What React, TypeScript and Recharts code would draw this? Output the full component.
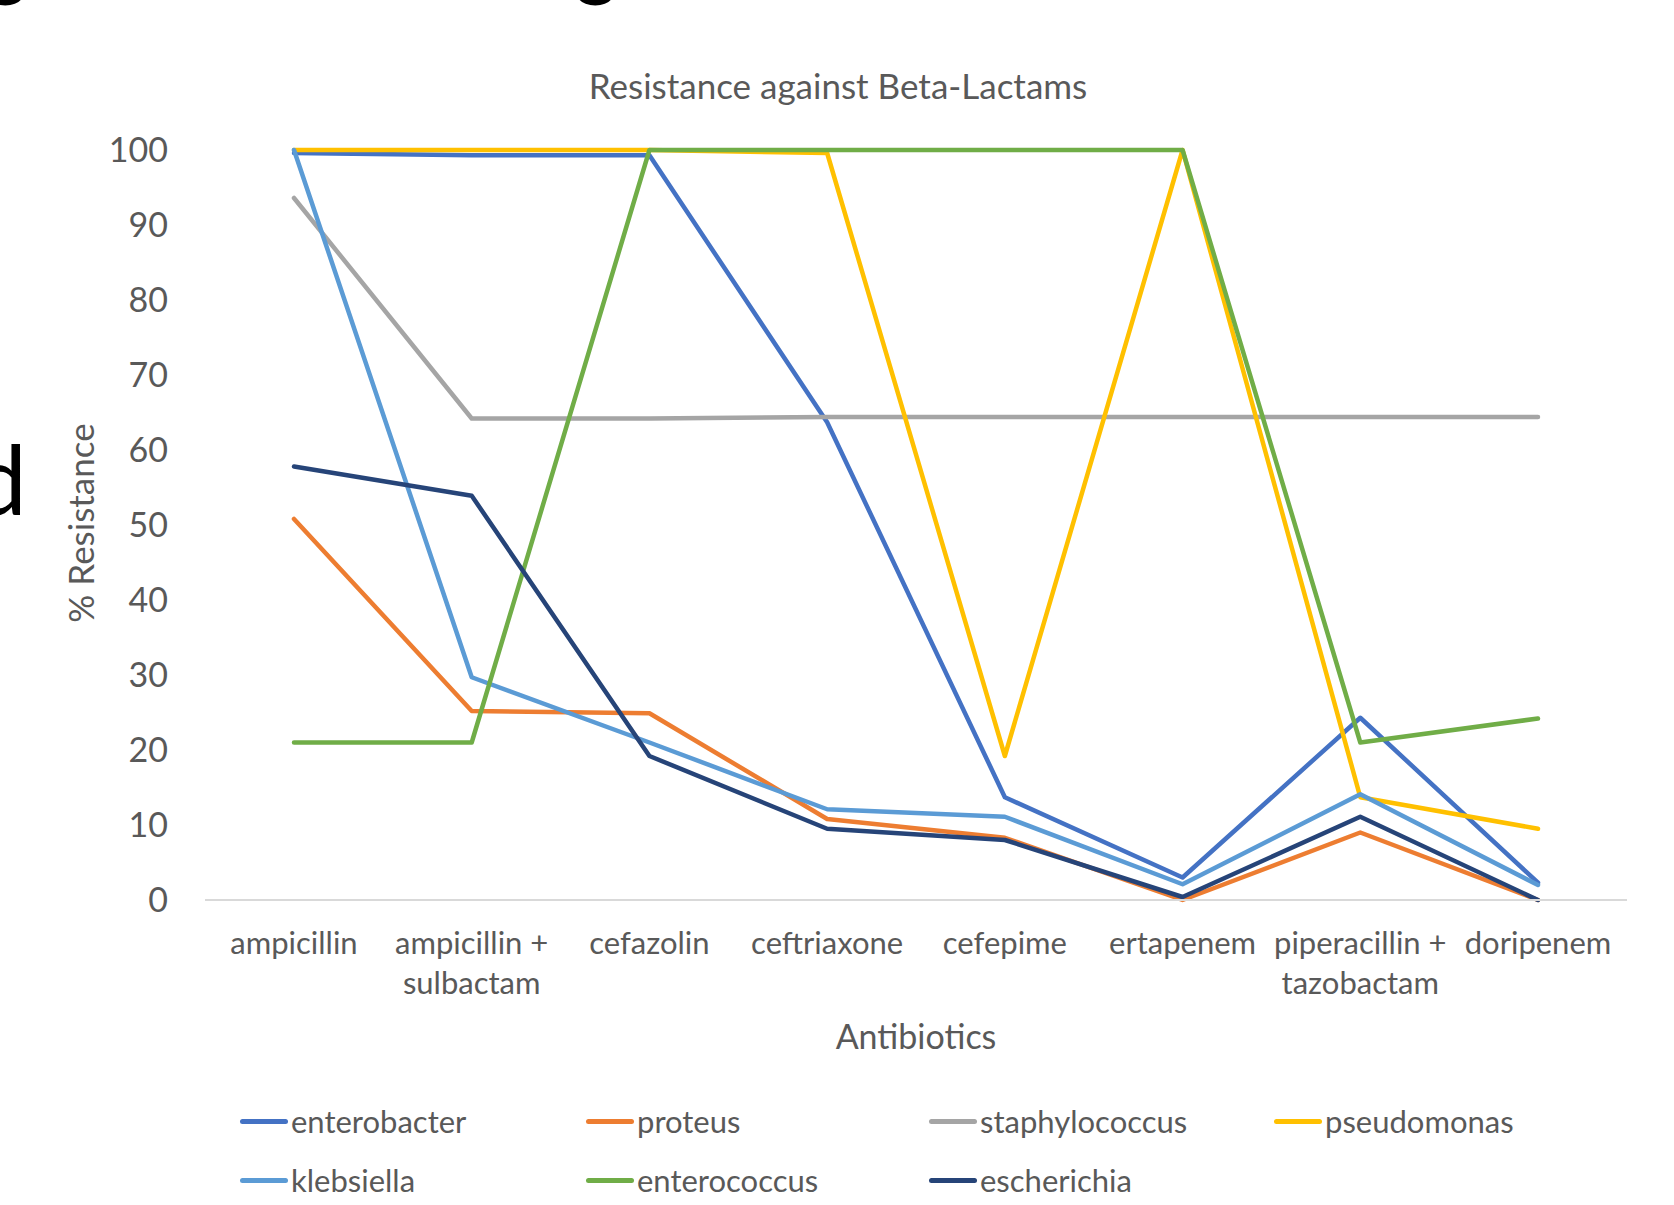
import React from "react";
import { Line, LineChart, XAxis, YAxis } from "recharts";

const categories = [
  "ampicillin",
  "ampicillin + sulbactam",
  "cefazolin",
  "ceftriaxone",
  "cefepime",
  "ertapenem",
  "piperacillin + tazobactam",
  "doripenem"
];

const enterobacter = [99.6, 99.3, 99.3, 63.7, 13.7, 3, 24.3, 2.3];
const proteus = [50.8, 25.2, 24.9, 10.8, 8.3, 0, 9, 0];
const staphylococcus = [93.6, 64.2, 64.2, 64.4, 64.4, 64.4, 64.4, 64.4];
const pseudomonas = [100, 100, 100, 99.6, 19.2, 100, 13.7, 9.5];
const klebsiella = [100, 29.7, 21, 12.1, 11.1, 2.1, 14.1, 2];
const enterococcus = [21, 21, 100, 100, 100, 100, 21, 24.2];
const escherichia = [57.8, 53.9, 19.2, 9.5, 8, 0.4, 11.1, 0];

const yTicks = [0, 10, 20, 30, 40, 50, 60, 70, 80, 90, 100];

const series = [
  { key: "enterobacter", values: enterobacter, color: "#4472C4" },
  { key: "proteus", values: proteus, color: "#ED7D31" },
  { key: "staphylococcus", values: staphylococcus, color: "#A5A5A5" },
  { key: "pseudomonas", values: pseudomonas, color: "#FFC000" },
  { key: "klebsiella", values: klebsiella, color: "#5B9BD5" },
  { key: "enterococcus", values: enterococcus, color: "#70AD47" },
  { key: "escherichia", values: escherichia, color: "#264478" }
];

const data = categories.map((name, i) => {
  const row: Record<string, string | number> = { name };
  series.forEach((s) => {
    row[s.key] = s.values[i];
  });
  return row;
});

const TEXT = "#595959";
const FONT = "Lato, 'Open Sans', sans-serif";

// splits "a + b" into two lines like Excel wraps them
function CategoryTick(props: any) {
  const { x, y, payload } = props;
  const value: string = payload.value;
  const parts = value.split(" + ");
  const lines = parts.length > 1 ? [parts[0] + " +", parts[1]] : [value];
  return (
    <g transform={`translate(${x},${y})`}>
      {lines.map((line, i) => (
        <text
          key={i}
          x={0}
          y={42 + i * 40}
          textAnchor="middle"
          dominantBaseline="central"
          fill={TEXT}
          fontSize={31}
          fontFamily={FONT}
        >
          {line}
        </text>
      ))}
    </g>
  );
}

// legend rows as in the picture: 4 items then 3
const legendCols = [240, 586, 929, 1274];
const legendRows = [1121, 1180];

// cut-off slide text peeking in at the edges of the screenshot
const edgeGlyph = (left: number, top: number, ch: string) => (
  <div
    style={{
      position: "absolute",
      left,
      top,
      fontSize: 96,
      lineHeight: 1,
      color: "#000"
    }}
  >
    {ch}
  </div>
);

export default function App() {
  return (
    <div
      style={{
        position: "absolute",
        left: 0,
        top: 0,
        width: 1674,
        height: 1205,
        overflow: "hidden",
        background: "#fff",
        fontFamily: FONT
      }}
    >
      {edgeGlyph(-27, 430, "d")}
      {edgeGlyph(-22, -80, "o")}
      {edgeGlyph(568, -80, "o")}
      <div
        style={{
          position: "absolute",
          left: 0,
          width: 1676,
          top: 65,
          lineHeight: "40px",
          textAlign: "center",
          fontSize: 35,
          color: TEXT
        }}
      >
        Resistance against Beta-Lactams
      </div>
      <div
        style={{
          position: "absolute",
          left: 80 - 150,
          width: 300,
          top: 523 - 20,
          lineHeight: "40px",
          textAlign: "center",
          fontSize: 35,
          color: TEXT,
          transform: "rotate(-90deg)"
        }}
      >
        % Resistance
      </div>
      <div
        style={{
          position: "absolute",
          left: 916 - 150,
          width: 300,
          top: 1036 - 20,
          lineHeight: "40px",
          textAlign: "center",
          fontSize: 34,
          color: TEXT
        }}
      >
        Antibiotics
      </div>

      <LineChart
        width={1674}
        height={1205}
        data={data}
        margin={{ top: 150, right: 47, bottom: 245, left: 145 }}
      >
        <XAxis
          dataKey="name"
          height={60}
          tickSize={0}
          tickMargin={0}
          interval={0}
          padding={{ left: 89, right: 89 }}
          tick={<CategoryTick />}
          axisLine={{ stroke: "#D9D9D9", strokeWidth: 2 }}
          tickLine={false}
        />
        <YAxis
          width={60}
          domain={[0, 100]}
          ticks={yTicks}
          tickSize={0}
          tickMargin={37}
          axisLine={false}
          tickLine={false}
          tick={{ fill: TEXT, fontSize: 34, fontFamily: FONT }}
        />
        {series.map((s) => (
          <Line
            key={s.key}
            type="linear"
            dataKey={s.key}
            stroke={s.color}
            strokeWidth={4.5}
            strokeLinejoin="round"
            strokeLinecap="round"
            dot={false}
            activeDot={false}
            isAnimationActive={false}
          />
        ))}
      </LineChart>

      {series.map((s, i) => {
        const col = i < 4 ? i : i - 4;
        const row = i < 4 ? 0 : 1;
        return (
          <div
            key={s.key}
            style={{
              position: "absolute",
              left: legendCols[col],
              top: legendRows[row] - 20,
              height: 40,
              display: "flex",
              alignItems: "center",
              fontSize: 31,
              color: TEXT
            }}
          >
            <span
              style={{
                display: "inline-block",
                width: 48,
                height: 5,
                borderRadius: 3,
                background: s.color,
                marginRight: 3
              }}
            />
            {s.key}
          </div>
        );
      })}
    </div>
  );
}
